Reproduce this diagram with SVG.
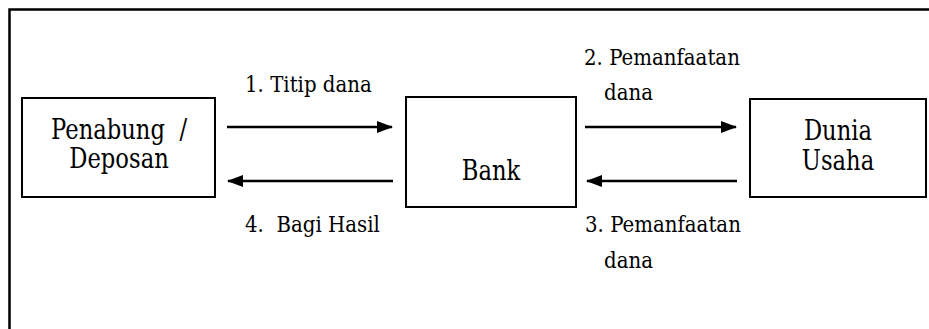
<svg xmlns="http://www.w3.org/2000/svg" width="929" height="329" viewBox="0 0 929 329">
<defs>
<style>
.box{fill:#fff;stroke:#000;stroke-width:2}
.frame{fill:none;stroke:#000;stroke-width:2.5}
.edge{stroke:#000;stroke-width:2.5;fill:none}
.node{font-family:'DejaVu Serif','Liberation Serif',serif;font-size:27px;fill:#000;text-anchor:middle}
.lbl{font-family:'DejaVu Serif','Liberation Serif',serif;font-size:23px;fill:#000}
</style>
<marker id="ah" markerWidth="16" markerHeight="12" refX="15" refY="6" orient="auto" markerUnits="userSpaceOnUse">
<path d="M0,0 L16,6 L0,12 Z" fill="#000"/>
</marker>
</defs>
<rect width="929" height="329" fill="#fff"/>
<path class="frame" d="M9.5,340 V9.5 H940"/>
<g id="penabung">
<rect class="box" x="22" y="98" width="193" height="99"/>
<text class="node" transform="translate(119,139) scale(0.84,1)" xml:space="preserve">Penabung  /</text>
<text class="node" transform="translate(119,168) scale(0.84,1)">Deposan</text>
</g>
<g id="bank">
<rect class="box" x="406" y="97" width="170" height="110"/>
<text class="node" transform="translate(491,180) scale(0.84,1)">Bank</text>
</g>
<g id="dunia">
<rect class="box" x="750" y="99" width="176" height="98"/>
<text class="node" transform="translate(838,140) scale(0.84,1)">Dunia</text>
<text class="node" transform="translate(838,170) scale(0.84,1)">Usaha</text>
</g>
<g id="connectors">
<line class="edge" x1="227" y1="127" x2="392" y2="127" marker-end="url(#ah)"/>
<line class="edge" x1="393" y1="181" x2="228" y2="181" marker-end="url(#ah)"/>
<line class="edge" x1="585" y1="127" x2="736" y2="127" marker-end="url(#ah)"/>
<line class="edge" x1="737" y1="181" x2="587" y2="181" marker-end="url(#ah)"/>
</g>
<g id="labels">
<text class="lbl" transform="translate(245,92) scale(0.86,1)">1. Titip dana</text>
<text class="lbl" transform="translate(584,65) scale(0.86,1)">2. Pemanfaatan</text>
<text class="lbl" transform="translate(604,100) scale(0.86,1)">dana</text>
<text class="lbl" transform="translate(245,232) scale(0.86,1)" xml:space="preserve">4.  Bagi Hasil</text>
<text class="lbl" transform="translate(585,232) scale(0.86,1)">3. Pemanfaatan</text>
<text class="lbl" transform="translate(604,268) scale(0.86,1)">dana</text>
</g>
</svg>
